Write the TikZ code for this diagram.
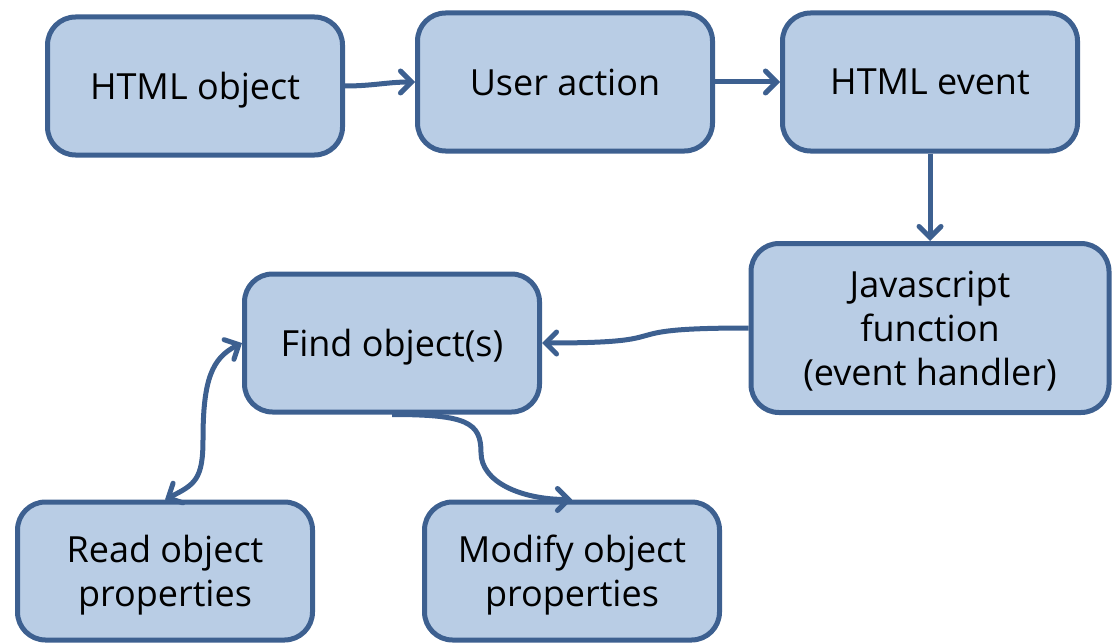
\documentclass[tikz,border=0pt]{standalone}
\usepackage{fontspec}
\setmainfont{Open Sans}
\usepackage{tikz}
\usetikzlibrary{arrows.meta}
\definecolor{boxfill}{HTML}{B9CDE5}
\definecolor{boxline}{HTML}{3D6090}

\begin{document}
\begin{tikzpicture}[x=0.5pt, y=-0.5pt,
  box/.style={draw=boxline, fill=boxfill, line width=2.5pt, rounded corners=14pt,
    minimum width=147.5pt, minimum height=69pt, inner sep=0pt, align=center,
    text depth=0pt, font=\fontsize{18}{22}\selectfont},
  barb/.tip={Straight Barb[length=5.5pt,width=11pt,line cap=round]},
  link/.style={draw=boxline, line width=2.5pt, -barb}]
\useasboundingbox (0,0) rectangle (1112,642);
%----------------------------------------
\node[box] (obj) at (195,86) {HTML object};
\node[box] (act) at (565,82) {User action};
\node[box] (evt) at (930,82) {HTML event};
\node[box, minimum width=179pt, minimum height=84.5pt] (js) at (930,328) {Javascript\\function\\(event handler)};
\node[box] (find) at (392,343) {Find object(s)};
\node[box] (read) at (165,571) {Read object\\properties};
\node[box] (mod) at (572,571) {Modify object\\properties};
%----------------------------------------
\draw[link] (obj.east) to[out=0, in=180] (act.west);
\draw[link] (act.east) -- (evt.west);
\draw[link] (evt.south) -- (js.north);
\draw[link] (js.west) .. controls +(-150,0) and +(150,0) .. (find.east);
\draw[link] (find.south) .. controls +(75,0) and +(0,-30) .. ++(89,38)
  .. controls +(0,30) and +(-50,0) .. (mod.north);
\draw[link, barb-barb] (read.north)
  .. controls +(30,-15) and +(0,40) .. ++(38,-60)
  .. controls +(0,-60) and +(-30,15) .. (find.west);
\end{tikzpicture}
\end{document}
